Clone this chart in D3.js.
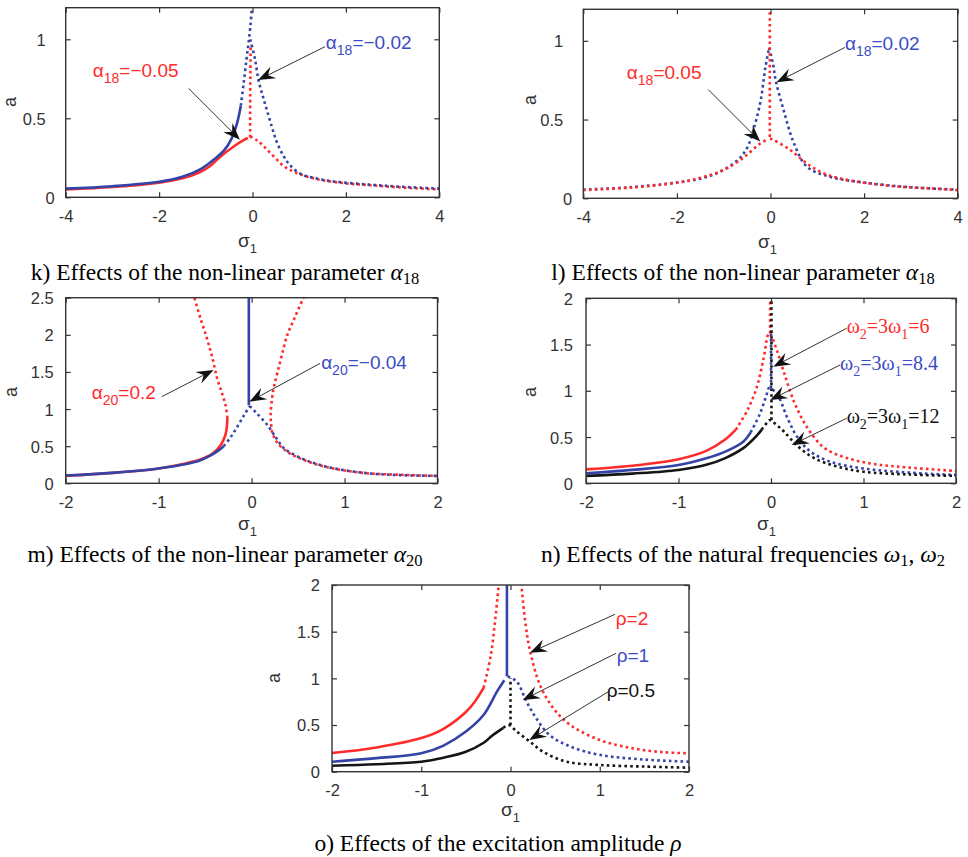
<!DOCTYPE html>
<html><head><meta charset="utf-8">
<script src="https://cdn.jsdelivr.net/npm/d3@7"></script>
<style>body{margin:0;background:#fff}</style>
</head><body>
<svg id="c" width="968" height="857" xmlns="http://www.w3.org/2000/svg"></svg>
<script>
// ---------- tick labels ----------
const ticksX4 = [-4, -2, 0, 2, 4];
const ticksX2 = [-2, -1, 0, 1, 2];
const ticksYk = [0, 0.5, 1];
const ticksYm = [0, 0.5, 1, 1.5, 2, 2.5];
const ticksYn = [0, 0.5, 1, 1.5, 2];

// ---------- panel k : alpha18 = -0.05 (red), -0.02 (blue) ----------
const kRedSolid = [[-4,0.05],[-3,0.065],[-2,0.093],[-1.5,0.12],[-1.12,0.16],[-0.9,0.2],[-0.69,0.257],[-0.41,0.32],[-0.2,0.36],[-0.1,0.375]];
const kRedDotV  = [[-0.05,0.38],[-0.05,0.6],[-0.045,0.8],[-0.04,0.97]];
const kRedDotR  = [[-0.05,0.385],[0.1,0.36],[0.25,0.32],[0.45,0.26],[0.66,0.2],[0.9,0.16],[1.38,0.115],[2,0.088],[2.45,0.078],[3,0.066],[3.5,0.057],[4,0.05]];
const kBlueSolid = [[-4,0.055],[-3,0.07],[-2,0.098],[-1.5,0.13],[-1.1,0.18],[-0.8,0.245],[-0.6,0.3],[-0.45,0.37],[-0.33,0.47],[-0.25,0.58]];
const kBlueDotL  = [[-0.25,0.58],[-0.19,0.72],[-0.13,0.87],[-0.086,0.975],[-0.04,1.1],[-0.01,1.22]];
const kBlueDotR  = [[-0.05,1.0],[0.05,0.88],[0.13,0.74],[0.22,0.64],[0.31,0.55],[0.42,0.44],[0.52,0.35],[0.65,0.27],[0.77,0.215],[1.02,0.15],[1.35,0.12],[1.74,0.1],[2.5,0.08],[3.17,0.067],[4,0.055]];

// ---------- panel l : alpha18 = 0.05 (red), 0.02 (blue) ----------
const lBlueDotL = [[-4,0.055],[-3,0.07],[-2,0.1],[-1.5,0.125],[-1.14,0.16],[-0.71,0.24],[-0.5,0.32],[-0.36,0.44],[-0.21,0.62],[-0.11,0.83],[-0.03,0.955]];
const lBlueDotR = [[-0.03,0.955],[0.05,0.86],[0.11,0.75],[0.28,0.56],[0.5,0.35],[0.78,0.2],[1.28,0.136],[2,0.1],[3,0.07],[4,0.055]];
const lRedDotL  = [[-4,0.052],[-3,0.068],[-2,0.099],[-1.5,0.13],[-1,0.18],[-0.57,0.26],[-0.21,0.35],[-0.04,0.375]];
const lRedDotV  = [[-0.015,0.39],[-0.015,0.8],[-0.015,1.25]];
const lRedDotR  = [[-0.01,0.38],[0.07,0.37],[0.43,0.305],[0.78,0.22],[1.14,0.158],[1.5,0.125],[2,0.099],[2.7,0.075],[3.42,0.063],[4,0.052]];

// ---------- panel m : alpha20 = 0.2 (red), -0.04 (blue) ----------
const mRedSolid = [[-2,0.1],[-1.5,0.14],[-1,0.2],[-0.7,0.27],[-0.55,0.32],[-0.42,0.4],[-0.33,0.52],[-0.28,0.66],[-0.265,0.78],[-0.26,0.88]];
const mRedDotL  = [[-0.26,0.88],[-0.28,1.05],[-0.32,1.22],[-0.37,1.41],[-0.42,1.68],[-0.48,1.95],[-0.55,2.22],[-0.62,2.52]];
const mRedDotR  = [[0.565,2.52],[0.47,2.25],[0.385,2.0],[0.33,1.75],[0.28,1.5],[0.24,1.3],[0.22,1.145],[0.205,0.92],[0.21,0.8],[0.22,0.695],[0.25,0.6],[0.28,0.54],[0.4,0.41],[0.55,0.32],[0.8,0.22],[1.2,0.14],[1.6,0.115],[2,0.1]];
const mBlueSolid  = [[-2,0.105],[-1.5,0.14],[-1,0.2],[-0.7,0.26],[-0.55,0.31],[-0.45,0.37],[-0.37,0.43],[-0.3,0.5]];
const mBlueDotL   = [[-0.3,0.5],[-0.22,0.63],[-0.15,0.77],[-0.08,0.92],[-0.02,1.04]];
const mBlueSolidV = [[-0.03,1.05],[-0.03,2.52]];
const mBlueDotR   = [[-0.02,1.04],[0.05,0.95],[0.17,0.785],[0.27,0.6],[0.35,0.47],[0.53,0.34],[0.7,0.26],[0.89,0.2],[1.25,0.135],[1.6,0.11],[2,0.1]];

// ---------- panel n : w2=3w1 = 6 (red), 8.4 (blue), 12 (black) ----------
const nRedSolid = [[-2,0.15],[-1.5,0.19],[-1,0.26],[-0.7,0.35],[-0.5,0.47],[-0.38,0.58]];
const nRedDot   = [[-0.38,0.58],[-0.25,0.8],[-0.15,1.05],[-0.08,1.35],[-0.02,1.62],[0.07,1.42],[0.14,1.2],[0.25,0.88],[0.4,0.59],[0.58,0.38],[0.83,0.27],[1.1,0.21],[1.37,0.18],[2,0.133]];
const nRedV     = [[-0.01,1.62],[-0.01,2.02]];
const nBlueSolid = [[-2,0.108],[-1.5,0.145],[-1,0.198],[-0.7,0.27],[-0.5,0.34],[-0.3,0.45],[-0.22,0.55]];
const nBlueDot   = [[-0.22,0.55],[-0.12,0.75],[-0.05,0.95],[-0.02,1.03],[0.07,0.955],[0.18,0.7],[0.29,0.49],[0.43,0.34],[0.65,0.23],[1,0.16],[1.5,0.115],[2,0.09]];
const nBlueV     = [[0,1.03],[0,1.62]];
const nBlackSolid = [[-2,0.08],[-1.5,0.105],[-1,0.144],[-0.7,0.2],[-0.5,0.27],[-0.3,0.38],[-0.15,0.52],[-0.1,0.58]];
const nBlackDot   = [[-0.1,0.58],[-0.04,0.66],[-0.01,0.685],[0.05,0.64],[0.14,0.56],[0.29,0.4],[0.47,0.27],[0.72,0.18],[1,0.125],[1.5,0.095],[2,0.08]];
const nBlackV     = [[0.005,0.685],[0.005,2.02]];

// ---------- panel o : rho = 2 (red), 1 (blue), 0.5 (black) ----------
const oRedSolid = [[-2,0.2],[-1.5,0.26],[-1,0.36],[-0.75,0.46],[-0.5,0.64],[-0.4,0.75],[-0.3,0.9]];
const oRedDotL  = [[-0.3,0.9],[-0.22,1.25],[-0.17,1.64],[-0.13,2.02]];
const oRedDotR  = [[0.12,2.02],[0.17,1.57],[0.22,1.29],[0.33,0.93],[0.48,0.68],[0.67,0.5],[1,0.34],[1.37,0.25],[1.7,0.21],[2,0.197]];
const oBlueSolid  = [[-2,0.107],[-1.5,0.145],[-1,0.197],[-0.75,0.28],[-0.5,0.43],[-0.3,0.61],[-0.15,0.86],[-0.07,0.98]];
const oBlueSolidV = [[-0.04,1.02],[-0.04,2.02]];
const oBlueDotR   = [[-0.03,1.02],[0.07,0.965],[0.18,0.75],[0.29,0.57],[0.44,0.39],[0.67,0.27],[1,0.18],[1.5,0.13],[2,0.107]];
const oBlackSolid = [[-2,0.064],[-1.5,0.08],[-1,0.107],[-0.75,0.15],[-0.5,0.214],[-0.3,0.31],[-0.2,0.39],[-0.08,0.47]];
const oBlackDot   = [[-0.08,0.47],[-0.02,0.5],[0.07,0.43],[0.22,0.32],[0.37,0.21],[0.63,0.107],[1,0.072],[1.5,0.055],[2,0.043]];
const oBlackDotV  = [[0,0.5],[0,1.0]];

// ---------- annotation texts and anchors (data coordinates: label start, arrow tail, arrow tip) ----------
const kNotes = [
  {parts:[["α"],["18","sub"],["=−0.05"]], c:"red", at:[-3.42,0.76], from:[-1.37,0.69], to:[-0.27,0.365]},
  {parts:[["α"],["18","sub"],["=−0.02"]], c:"blue", at:[1.57,0.94], from:[1.55,0.953], to:[0.12,0.742]}
];
const lNotes = [
  {parts:[["α"],["18","sub"],["=0.05"]], c:"red", at:[-3.07,0.76], from:[-1.33,0.69], to:[-0.22,0.36]},
  {parts:[["α"],["18","sub"],["=0.02"]], c:"blue", at:[1.59,0.94], from:[1.59,0.958], to:[0.13,0.737]}
];
const mNotes = [
  {parts:[["α"],["20","sub"],["=0.2"]], c:"red", at:[-1.72,1.135], from:[-0.967,1.166], to:[-0.41,1.526]},
  {parts:[["α"],["20","sub"],["=−0.04"]], c:"blue", at:[0.748,1.54], from:[0.737,1.616], to:[-0.024,1.099]}
];
const nNotes = [
  {parts:[["ω"],["2","sub"],["=3ω"],["1","sub"],["=6"]], c:"red", at:[0.818,1.62], from:[0.818,1.676], to:[0.025,1.26]},
  {parts:[["ω"],["2","sub"],["=3ω"],["1","sub"],["=8.4"]], c:"blue", at:[0.746,1.225], from:[0.746,1.279], to:[-0.01,0.9]},
  {parts:[["ω"],["2","sub"],["=3ω"],["1","sub"],["=12"]], c:"black", at:[0.818,0.649], from:[0.818,0.703], to:[0.224,0.414]}
];
const oNotes = [
  {parts:[["ρ=2"]], c:"red", at:[1.18,1.57], from:[1.171,1.686], to:[0.218,1.275]},
  {parts:[["ρ=1"]], c:"blue", at:[1.19,1.172], from:[1.182,1.268], to:[0.137,0.768]},
  {parts:[["ρ=0.5"]], c:"black", at:[1.078,0.803], from:[1.096,0.857], to:[0.21,0.34]}
];

// ---------- captions ----------
const captions = {
  k: [["k) Effects of the non-linear parameter "],["α","it"],["18","sub"]],
  l: [["l) Effects of the non-linear parameter "],["α","it"],["18","sub"]],
  m: [["m) Effects of the non-linear parameter "],["α","it"],["20","sub"]],
  n: [["n) Effects of the natural frequencies "],["ω","it"],["1","sub"],[", ","up"],["ω","it"],["2","sub"]],
  o: [["o) Effects of the excitation amplitude "],["ρ","it"]]
};

// ---------- styling / layout ----------
const COL = {red:"#ff2b2b", blue:"#3343a6", black:"#151515"};
const TXT = {red:"#ff2b2b", blue:"#3b4cc4", black:"#111"};
const SANS = "'Liberation Sans', Arial, Helvetica, sans-serif";
const SERIF = "'Liberation Serif', 'Times New Roman', serif";

const panels = [
  {id:"k", x:[65.7,439.3], y:[197.3,7.7], xd:[-4,4], yd:[0,1.2], xt:ticksX4, yt:ticksYk, ypad:15, zeroShift:9,
   ylab:[16,102], xlab:[238,247], cap:[225,280], noteFont:SANS,
   series:[[kRedSolid,"red",0],[kRedDotV,"red",1],[kRedDotR,"red",1],[kBlueSolid,"blue",0],[kBlueDotL,"blue",1],[kBlueDotR,"blue",1]], notes:kNotes},
  {id:"l", x:[583.3,957.7], y:[198.3,9.3], xd:[-4,4], yd:[0,1.2], xt:ticksX4, yt:ticksYk, ypad:15, zeroShift:9,
   ylab:[536,100], xlab:[758,248], cap:[743,280], noteFont:SANS,
   series:[[lBlueDotL,"blue",1],[lBlueDotR,"blue",1],[lRedDotL,"red",1],[lRedDotV,"red",1],[lRedDotR,"red",1]], notes:lNotes},
  {id:"m", x:[65.7,437.5], y:[483.3,297.7], xd:[-2,2], yd:[0,2.5], xt:ticksX2, yt:ticksYm, ypad:7, zeroShift:0,
   ylab:[17,392], xlab:[238,530], cap:[225,562], noteFont:SANS,
   series:[[mRedSolid,"red",0],[mRedDotL,"red",1],[mRedDotR,"red",1],[mBlueSolid,"blue",0],[mBlueDotL,"blue",1],[mBlueSolidV,"blue",0],[mBlueDotR,"blue",1]], notes:mNotes},
  {id:"n", x:[586,956], y:[483.3,298.3], xd:[-2,2], yd:[0,2], xt:ticksX2, yt:ticksYn, ypad:8, zeroShift:0,
   ylab:[536,392], xlab:[757,530], cap:[743,562], noteFont:SERIF,
   series:[[nRedSolid,"red",0],[nRedDot,"red",1],[nRedV,"red",1],[nBlueSolid,"blue",0],[nBlueDot,"blue",1],[nBlueV,"blue",1],[nBlackSolid,"black",0],[nBlackDot,"black",1],[nBlackV,"black",1]], notes:nNotes},
  {id:"o", x:[332,689], y:[771.7,585], xd:[-2,2], yd:[0,2], xt:ticksX2, yt:ticksYn, ypad:7, zeroShift:0,
   ylab:[280,678], xlab:[501,816], cap:[498,851], noteFont:SANS,
   series:[[oRedSolid,"red",0],[oRedDotL,"red",1],[oRedDotR,"red",1],[oBlueSolid,"blue",0],[oBlueSolidV,"blue",0],[oBlueDotR,"blue",1],[oBlackSolid,"black",0],[oBlackDot,"black",1],[oBlackDotV,"black",1]], notes:oNotes}
];

const svg = d3.select("#c");
const defs = svg.append("defs");

function addParts(text, parts, base, sub, subShift) {
  let shifted = false;
  parts.forEach(p => {
    const ts = text.append("tspan").text(p[0]);
    const kind = p[1];
    if (kind === "sub") {
      ts.attr("font-size", sub);
      if (!shifted) { ts.attr("dy", subShift); shifted = true; }
    } else {
      ts.attr("font-size", base);
      if (shifted) { ts.attr("dy", -subShift); shifted = false; }
      if (kind === "it") ts.attr("font-style", "italic");
    }
  });
}

function arrow(g, sx, sy, tx, ty) {
  const dx = tx - sx, dy = ty - sy, L = Math.hypot(dx, dy);
  const ux = dx / L, uy = dy / L, px = -uy, py = ux;
  const hl = 17, hw = 6.5, notch = 11;
  const bx = tx - ux * hl, by = ty - uy * hl;
  const nx = tx - ux * notch, ny = ty - uy * notch;
  g.append("line").attr("x1", sx).attr("y1", sy).attr("x2", nx).attr("y2", ny)
    .attr("stroke", "#333").attr("stroke-width", 1);
  g.append("path")
    .attr("d", `M${tx},${ty}L${bx + px * hw},${by + py * hw}L${nx},${ny}L${bx - px * hw},${by - py * hw}Z`)
    .attr("fill", "#111");
}

panels.forEach(P => {
  const x = d3.scaleLinear().domain(P.xd).range(P.x);
  const y = d3.scaleLinear().domain(P.yd).range(P.y);
  const g = svg.append("g");

  defs.append("clipPath").attr("id", "clip-" + P.id).append("rect")
    .attr("x", P.x[0]).attr("y", P.y[1]).attr("width", P.x[1] - P.x[0]).attr("height", P.y[0] - P.y[1]);

  // curves
  const line = d3.line().x(d => x(d[0])).y(d => y(d[1])).curve(d3.curveCatmullRom.alpha(0.5));
  const cg = g.append("g").attr("clip-path", `url(#clip-${P.id})`);
  P.series.forEach(([data, c, dotted]) => {
    cg.append("path").attr("d", line(data)).attr("fill", "none")
      .attr("stroke", COL[c]).attr("stroke-width", 2.6)
      .attr("stroke-dasharray", dotted ? "2.6,3.2" : null)
      .attr("stroke-linejoin", "round");
  });

  // axes (MATLAB box with inward ticks)
  const tl = 5;
  const axB = d3.axisBottom(x).tickValues(P.xt).tickSize(-tl).tickPadding(tl + 8).tickFormat(d => String(d));
  const axT = d3.axisTop(x).tickValues(P.xt).tickSize(-tl).tickFormat("");
  const axL = d3.axisLeft(y).tickValues(P.yt).tickSize(-tl).tickPadding(tl + P.ypad).tickFormat(d => String(d));
  const axR = d3.axisRight(y).tickValues(P.yt).tickSize(-tl).tickFormat("");
  const gb = g.append("g").attr("transform", `translate(0,${P.y[0]})`).call(axB);
  const gt = g.append("g").attr("transform", `translate(0,${P.y[1]})`).call(axT);
  const gl = g.append("g").attr("transform", `translate(${P.x[0]},0)`).call(axL);
  const gr = g.append("g").attr("transform", `translate(${P.x[1]},0)`).call(axR);
  [gb, gt, gl, gr].forEach(a => {
    a.select(".domain").remove();
    a.selectAll("line").attr("stroke", "#333").attr("stroke-width", 1.2);
    a.selectAll("text").attr("font-family", SANS).attr("font-size", 16.5).attr("fill", "#333");
  });
  gb.selectAll("text").attr("dy", "0.71em");
  gl.selectAll("text").attr("dy", "0.36em").attr("dx", d => d === 0 ? P.zeroShift : 0);
  g.append("rect").attr("x", P.x[0]).attr("y", P.y[1]).attr("width", P.x[1] - P.x[0]).attr("height", P.y[0] - P.y[1])
    .attr("fill", "none").attr("stroke", "#333").attr("stroke-width", 1.4);

  // axis labels
  g.append("text").attr("transform", `translate(${P.ylab[0]},${P.ylab[1]}) rotate(-90)`)
    .attr("text-anchor", "middle").attr("font-family", SANS).attr("font-size", 18).attr("fill", "#333").text("a");
  const xl = g.append("text").attr("x", P.xlab[0]).attr("y", P.xlab[1]).attr("font-family", SANS).attr("fill", "#333");
  addParts(xl, [["σ"], ["1", "sub"]], 19, 13, 6);

  // annotations
  P.notes.forEach(nt => {
    arrow(g, x(nt.from[0]), y(nt.from[1]), x(nt.to[0]), y(nt.to[1]));
    const t = g.append("text").attr("x", x(nt.at[0])).attr("y", y(nt.at[1]))
      .attr("font-family", P.noteFont).attr("fill", TXT[nt.c]);
    addParts(t, nt.parts, P.noteFont === SERIF ? 20 : 19, 14, 6);
  });

  // caption
  const cap = g.append("text").attr("x", P.cap[0]).attr("y", P.cap[1]).attr("text-anchor", "middle")
    .attr("font-family", SERIF).attr("fill", "#000");
  addParts(cap, captions[P.id], 23.5, 16.5, 4);
});
</script>
</body></html>
